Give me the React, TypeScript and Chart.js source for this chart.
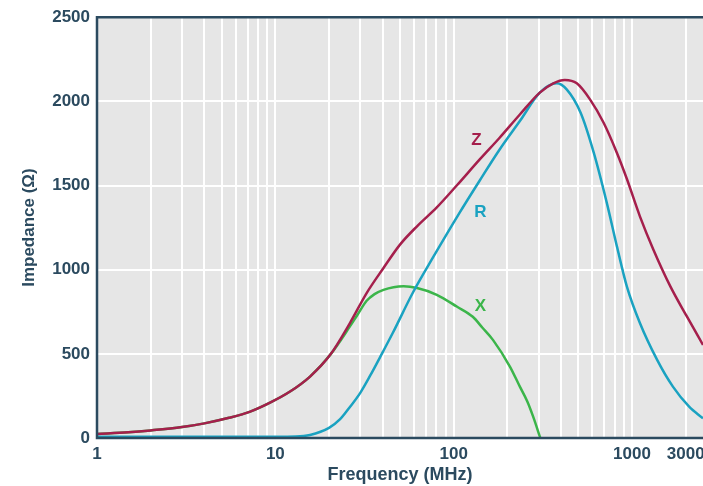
import React, { useEffect, useRef } from 'react';
import { Chart, registerables } from 'chart.js';

Chart.register(...registerables);

// Frequency (MHz) and impedance (Ω)
const zFreq = [1, 1.5, 2, 3, 4, 5.5, 7.23, 9.34, 12.09, 15.65, 20.3, 26.2, 32.5, 40.4, 50, 62.3, 80.4, 104, 140, 181, 235, 304, 362, 420, 490, 581, 693, 822, 935, 1107, 1318, 1640, 2030, 2500];
const zValues = [24, 34, 45, 65, 87, 120, 157, 210, 276, 365, 494, 683, 861, 1010, 1149, 1258, 1370, 1500, 1655, 1784, 1922, 2052, 2107, 2127, 2107, 2012, 1873, 1695, 1540, 1317, 1119, 901, 722, 553];

const rFreq = [1, 5, 10, 13, 15.65, 20, 23, 26, 30, 34, 40, 45.6, 59, 77, 108, 140, 181, 235, 304, 378, 430, 515, 610, 722, 822, 935, 1107, 1383, 1695, 2090, 2500];
const rValues = [8, 8, 8, 9, 18, 60, 110, 180, 270, 370, 510, 625, 863, 1077, 1339, 1530, 1714, 1883, 2052, 2107, 2071, 1932, 1695, 1397, 1140, 901, 683, 464, 305, 186, 117];

const xFreq = [1, 1.5, 2, 3, 4, 5.5, 7.23, 9.34, 12.09, 15.65, 20.3, 26.2, 29, 32.5, 36, 40.4, 46, 52.4, 62.3, 80.4, 104, 128, 145, 166, 207, 235, 258, 279, 306];
const xValues = [24, 34, 45, 65, 87, 120, 157, 210, 276, 365, 494, 663, 735, 815, 855, 880, 896, 901, 891, 851, 781, 720, 655, 583, 423, 305, 220, 127, 0];

const xMin = 1;
const xMax = 2500;
const gridDecades = [1, 10, 100, 1000];
const gridMultipliers = [1, 2, 3, 4, 5, 6, 7, 8, 9];
const tickValues = [1, 10, 100, 1000, 2000];
const tickLabels = ['1', '10', '100', '1000', '3000'];

const yMin = 0;
const yMax = 2500;
const yStep = 500;

const seriesNames = ['Z', 'R', 'X'];
const seriesColors = ['#a51f4c', '#1aa2c1', '#3bb54a'];
const labelFreqs = [134, 141, 141];
const labelValues = [1768, 1339, 780];

const textColor = '#2b4a5f';
const fontFamily = '"Liberation Sans", Arial, Helvetica, sans-serif';

export default function App() {
  const canvasRef = useRef<HTMLCanvasElement | null>(null);

  useEffect(() => {
    document.body.style.margin = '0';
    const canvas = canvasRef.current;
    if (!canvas) return;

    const gridValues: number[] = [];
    gridDecades.forEach((d) => gridMultipliers.forEach((m) => {
      const v = d * m;
      if (v >= xMin && v <= xMax) gridValues.push(v);
    }));

    const toPoints = (fs: number[], vs: number[]) => fs.map((f, i) => ({ x: f, y: vs[i] }));

    const decorPlugin = {
      id: 'decor',
      beforeDraw(chart: any) {
        const { ctx, chartArea } = chart;
        ctx.save();
        ctx.fillStyle = '#e6e6e6';
        ctx.fillRect(chartArea.left, chartArea.top, chartArea.right - chartArea.left, chartArea.bottom - chartArea.top);
        ctx.restore();
      },
      afterDatasetsDraw(chart: any) {
        const { ctx, chartArea, scales } = chart;
        ctx.save();
        ctx.strokeStyle = textColor;
        ctx.lineWidth = 2.5;
        ctx.beginPath();
        ctx.moveTo(chartArea.right, chartArea.top);
        ctx.lineTo(chartArea.left, chartArea.top);
        ctx.lineTo(chartArea.left, chartArea.bottom);
        ctx.lineTo(chartArea.right, chartArea.bottom);
        ctx.stroke();
        ctx.font = `bold 17px ${fontFamily}`;
        ctx.textAlign = 'center';
        ctx.textBaseline = 'middle';
        seriesNames.forEach((n, i) => {
          ctx.fillStyle = seriesColors[i];
          ctx.fillText(n, scales.x.getPixelForValue(labelFreqs[i]), scales.y.getPixelForValue(labelValues[i]));
        });
        ctx.restore();
      },
    };

    const chart = new Chart(canvas, {
      type: 'line',
      data: {
        datasets: [
          { label: 'Z', data: toPoints(zFreq, zValues), borderColor: seriesColors[0] },
          { label: 'R', data: toPoints(rFreq, rValues), borderColor: seriesColors[1] },
          { label: 'X', data: toPoints(xFreq, xValues), borderColor: seriesColors[2] },
        ].map((d) => ({
          ...d,
          borderWidth: 2.5,
          pointRadius: 0,
          fill: false,
          cubicInterpolationMode: 'monotone' as const,
        })),
      },
      plugins: [decorPlugin],
      options: {
        animation: false,
        responsive: true,
        maintainAspectRatio: false,
        layout: { padding: { top: 16, right: 0, bottom: 0, left: 0 } },
        plugins: { legend: { display: false }, tooltip: { enabled: false } },
        scales: {
          x: {
            type: 'logarithmic',
            min: xMin,
            max: xMax,
            afterBuildTicks: (axis: any) => {
              axis.ticks = gridValues.map((v) => ({ value: v }));
            },
            afterFit: (axis: any) => {
              axis.height = 48;
              axis.paddingRight = 0;
              axis.paddingLeft = 0;
            },
            grid: { color: '#ffffff', lineWidth: 2, drawTicks: false },
            border: { display: false },
            ticks: {
              autoSkip: false,
              maxRotation: 0,
              padding: 6,
              color: textColor,
              font: { family: fontFamily, size: 17, weight: 'bold' },
              callback: (value: any) => {
                const i = tickValues.indexOf(Number(value));
                return i >= 0 ? tickLabels[i] : '';
              },
            },
            title: {
              display: true,
              text: 'Frequency (MHz)',
              color: textColor,
              font: { family: fontFamily, size: 18, weight: 'bold' },
              padding: { top: 0, bottom: 0 },
            },
          },
          y: {
            type: 'linear',
            min: yMin,
            max: yMax,
            afterFit: (axis: any) => {
              axis.width = 97;
            },
            grid: { color: '#ffffff', lineWidth: 2, drawTicks: false },
            border: { display: false },
            ticks: {
              stepSize: yStep,
              padding: 7,
              color: textColor,
              font: { family: fontFamily, size: 17, weight: 'bold' },
              callback: (value: any) => String(value),
            },
            title: {
              display: true,
              text: 'Impedance (Ω)',
              color: textColor,
              font: { family: fontFamily, size: 17, weight: 'bold' },
              padding: { top: 19, bottom: 0 },
            },
          },
        },
      },
    });

    return () => chart.destroy();
  }, []);

  return (
    <div style={{ position: 'relative', width: '703px', height: '486px' }}>
      <canvas ref={canvasRef} />
    </div>
  );
}
